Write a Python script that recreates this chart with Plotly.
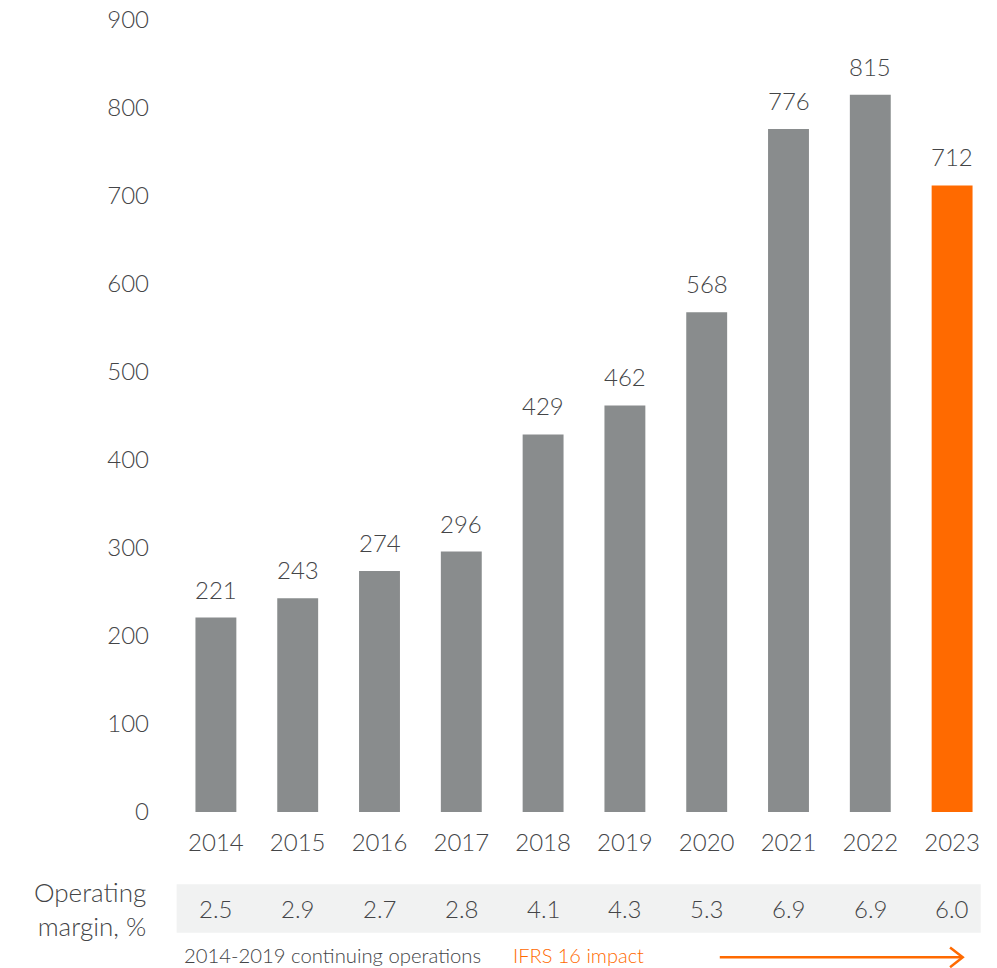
import plotly.graph_objects as go

# Operating profit by year, with operating margin shown beneath the axis
years = ["2014", "2015", "2016", "2017", "2018", "2019", "2020", "2021", "2022", "2023"]
profit = [221, 243, 274, 296, 429, 462, 568, 776, 815, 712]
margin = ["2.5", "2.9", "2.7", "2.8", "4.1", "4.3", "5.3", "6.9", "6.9", "6.0"]
y_ticks = [0, 100, 200, 300, 400, 500, 600, 700, 800, 900]

GREY = "#898C8D"
ORANGE = "#FF6A00"
TEXT = "#444547"
BAND = "#F1F2F2"
FONT = "Lato"
WEIGHT = 300

pos = list(range(len(years)))
bar_colors = [GREY] * (len(years) - 1) + [ORANGE]


def f(size, color=TEXT):
    return dict(family=FONT, size=size, color=color, weight=WEIGHT)


fig = go.Figure()
fig.add_trace(go.Bar(
    x=pos, y=profit,
    marker=dict(color=bar_colors, line=dict(width=0)),
    hovertext=years, hoverinfo="text+y",
))

annotations = []
# value labels above the bars
for i, v in zip(pos, profit):
    annotations.append(dict(
        x=i, y=v, xref="x", yref="y", text=str(v), showarrow=False,
        yanchor="bottom", yshift=12, font=f(24),
    ))

# operating margin row
for i, m in zip(pos, margin):
    annotations.append(dict(
        x=i, y=-0.1215, xref="x", yref="paper", text=m, showarrow=False,
        yanchor="middle", font=f(24),
    ))

annotations.append(dict(
    x=-0.033, y=-0.1225, xref="paper", yref="paper",
    text="Operating<br>margin, %", showarrow=False, align="right",
    xanchor="right", yanchor="middle", font=f(26),
))

# footnote line
annotations.append(dict(
    x=0.009, y=-0.1805, xref="paper", yref="paper",
    text="2014-2019 continuing operations", showarrow=False,
    xanchor="left", yanchor="middle", font=f(20.3),
))
annotations.append(dict(
    x=0.411, y=-0.1805, xref="paper", yref="paper",
    text="IFRS 16 impact", showarrow=False,
    xanchor="left", yanchor="middle", font=f(20, ORANGE),
))

shapes = [
    dict(type="rect", xref="x", yref="paper", x0=-0.48, x1=9.35,
         y0=-0.1524, y1=-0.0913, fillcolor=BAND, line=dict(width=0), layer="below"),
    # arrow shaft and open chevron head
    dict(type="line", xref="paper", yref="paper",
         x0=0.666, x1=0.962, y0=-0.1835, y1=-0.1835,
         line=dict(color=ORANGE, width=2.5)),
    dict(type="path", xref="paper", yref="paper",
         path="M 0.9475,-0.1710 L 0.963,-0.1835 L 0.9475,-0.1960",
         line=dict(color=ORANGE, width=2.5)),
]

fig.update_layout(
    width=997, height=968,
    margin=dict(l=175, r=4, t=20, b=156),
    plot_bgcolor="white", paper_bgcolor="white",
    showlegend=False,
    bargap=0.5,
    font=f(24),
    xaxis=dict(
        range=[-0.5, 9.5], tickvals=pos, ticktext=years,
        showgrid=False, showline=False, zeroline=False,
        ticks="", ticklabelstandoff=14, tickfont=f(24),
        fixedrange=True,
    ),
    yaxis=dict(
        range=[0, 900], tickvals=y_ticks, ticktext=[str(t) for t in y_ticks],
        showgrid=False, showline=False, zeroline=False,
        ticks="", ticklabelstandoff=25, tickfont=f(24),
        fixedrange=True,
    ),
    annotations=annotations,
    shapes=shapes,
)

fig.write_html("out.html")
